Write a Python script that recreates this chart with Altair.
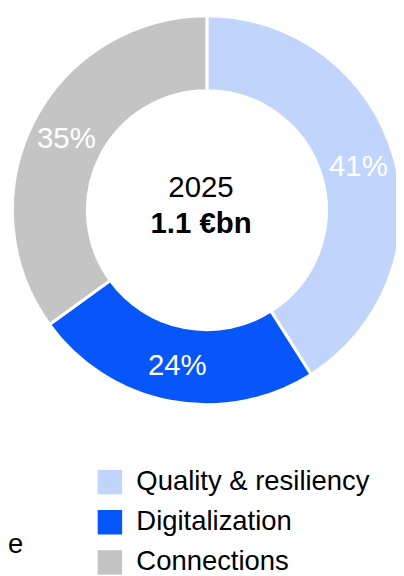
import altair as alt
import pandas as pd

categories = ["Quality & resiliency", "Digitalization", "Connections"]
shares = [41, 24, 35]
labels = ["41%", "24%", "35%"]
colors = ["#C1D5FC", "#0656FA", "#C4C4C4"]
center_year = "2025"
center_total = "1.1 €bn"
stray_text = "e"

df = pd.DataFrame({"cat": categories, "share": shares, "label": labels,
                   "ord": list(range(len(categories)))})

CX, CY = 203, 200.5
FONT = "Liberation Sans"

color = alt.Color("cat:N", sort=categories,
                  scale=alt.Scale(domain=categories, range=colors),
                  legend=alt.Legend(title=None, orient="none", legendX=90, legendY=464,
                                    symbolType="square", symbolSize=625,
                                    symbolStrokeWidth=0, labelFontSize=28,
                                    labelFont=FONT, labelColor="#000", labelLimit=0,
                                    labelOffset=13, rowPadding=13))

base = alt.Chart(df).encode(
    theta=alt.Theta("share:Q", stack=True),
    order=alt.Order("ord:Q"),
)

arcs = base.mark_arc(outerRadius=198.5, innerRadius=122, stroke="white", strokeWidth=3).encode(
    color=color, x=alt.value(CX), y=alt.value(CY))

pct = base.mark_text(radius=161, fontSize=30, color="white", font=FONT, dy=1).encode(
    text="label:N", x=alt.value(CX), y=alt.value(CY))

c1 = alt.Chart(pd.DataFrame({"t": [center_year]})).mark_text(
    fontSize=30, font=FONT, color="#000").encode(
    text="t:N", x=alt.value(197), y=alt.value(178))
c2 = alt.Chart(pd.DataFrame({"t": [center_total]})).mark_text(
    fontSize=30, font=FONT, fontWeight="bold", color="#000").encode(
    text="t:N", x=alt.value(197), y=alt.value(215))
c3 = alt.Chart(pd.DataFrame({"t": [stray_text]})).mark_text(
    fontSize=28, font=FONT, color="#000", align="left").encode(
    text="t:N", x=alt.value(0), y=alt.value(542))

chart = alt.layer(arcs, pct, c1, c2, c3).properties(
    width=396, height=568, padding=0, autosize=alt.AutoSizeParams(type="none")
).configure_view(stroke=None)

chart.save("out.html", embed_options={"renderer": "svg", "actions": False})
